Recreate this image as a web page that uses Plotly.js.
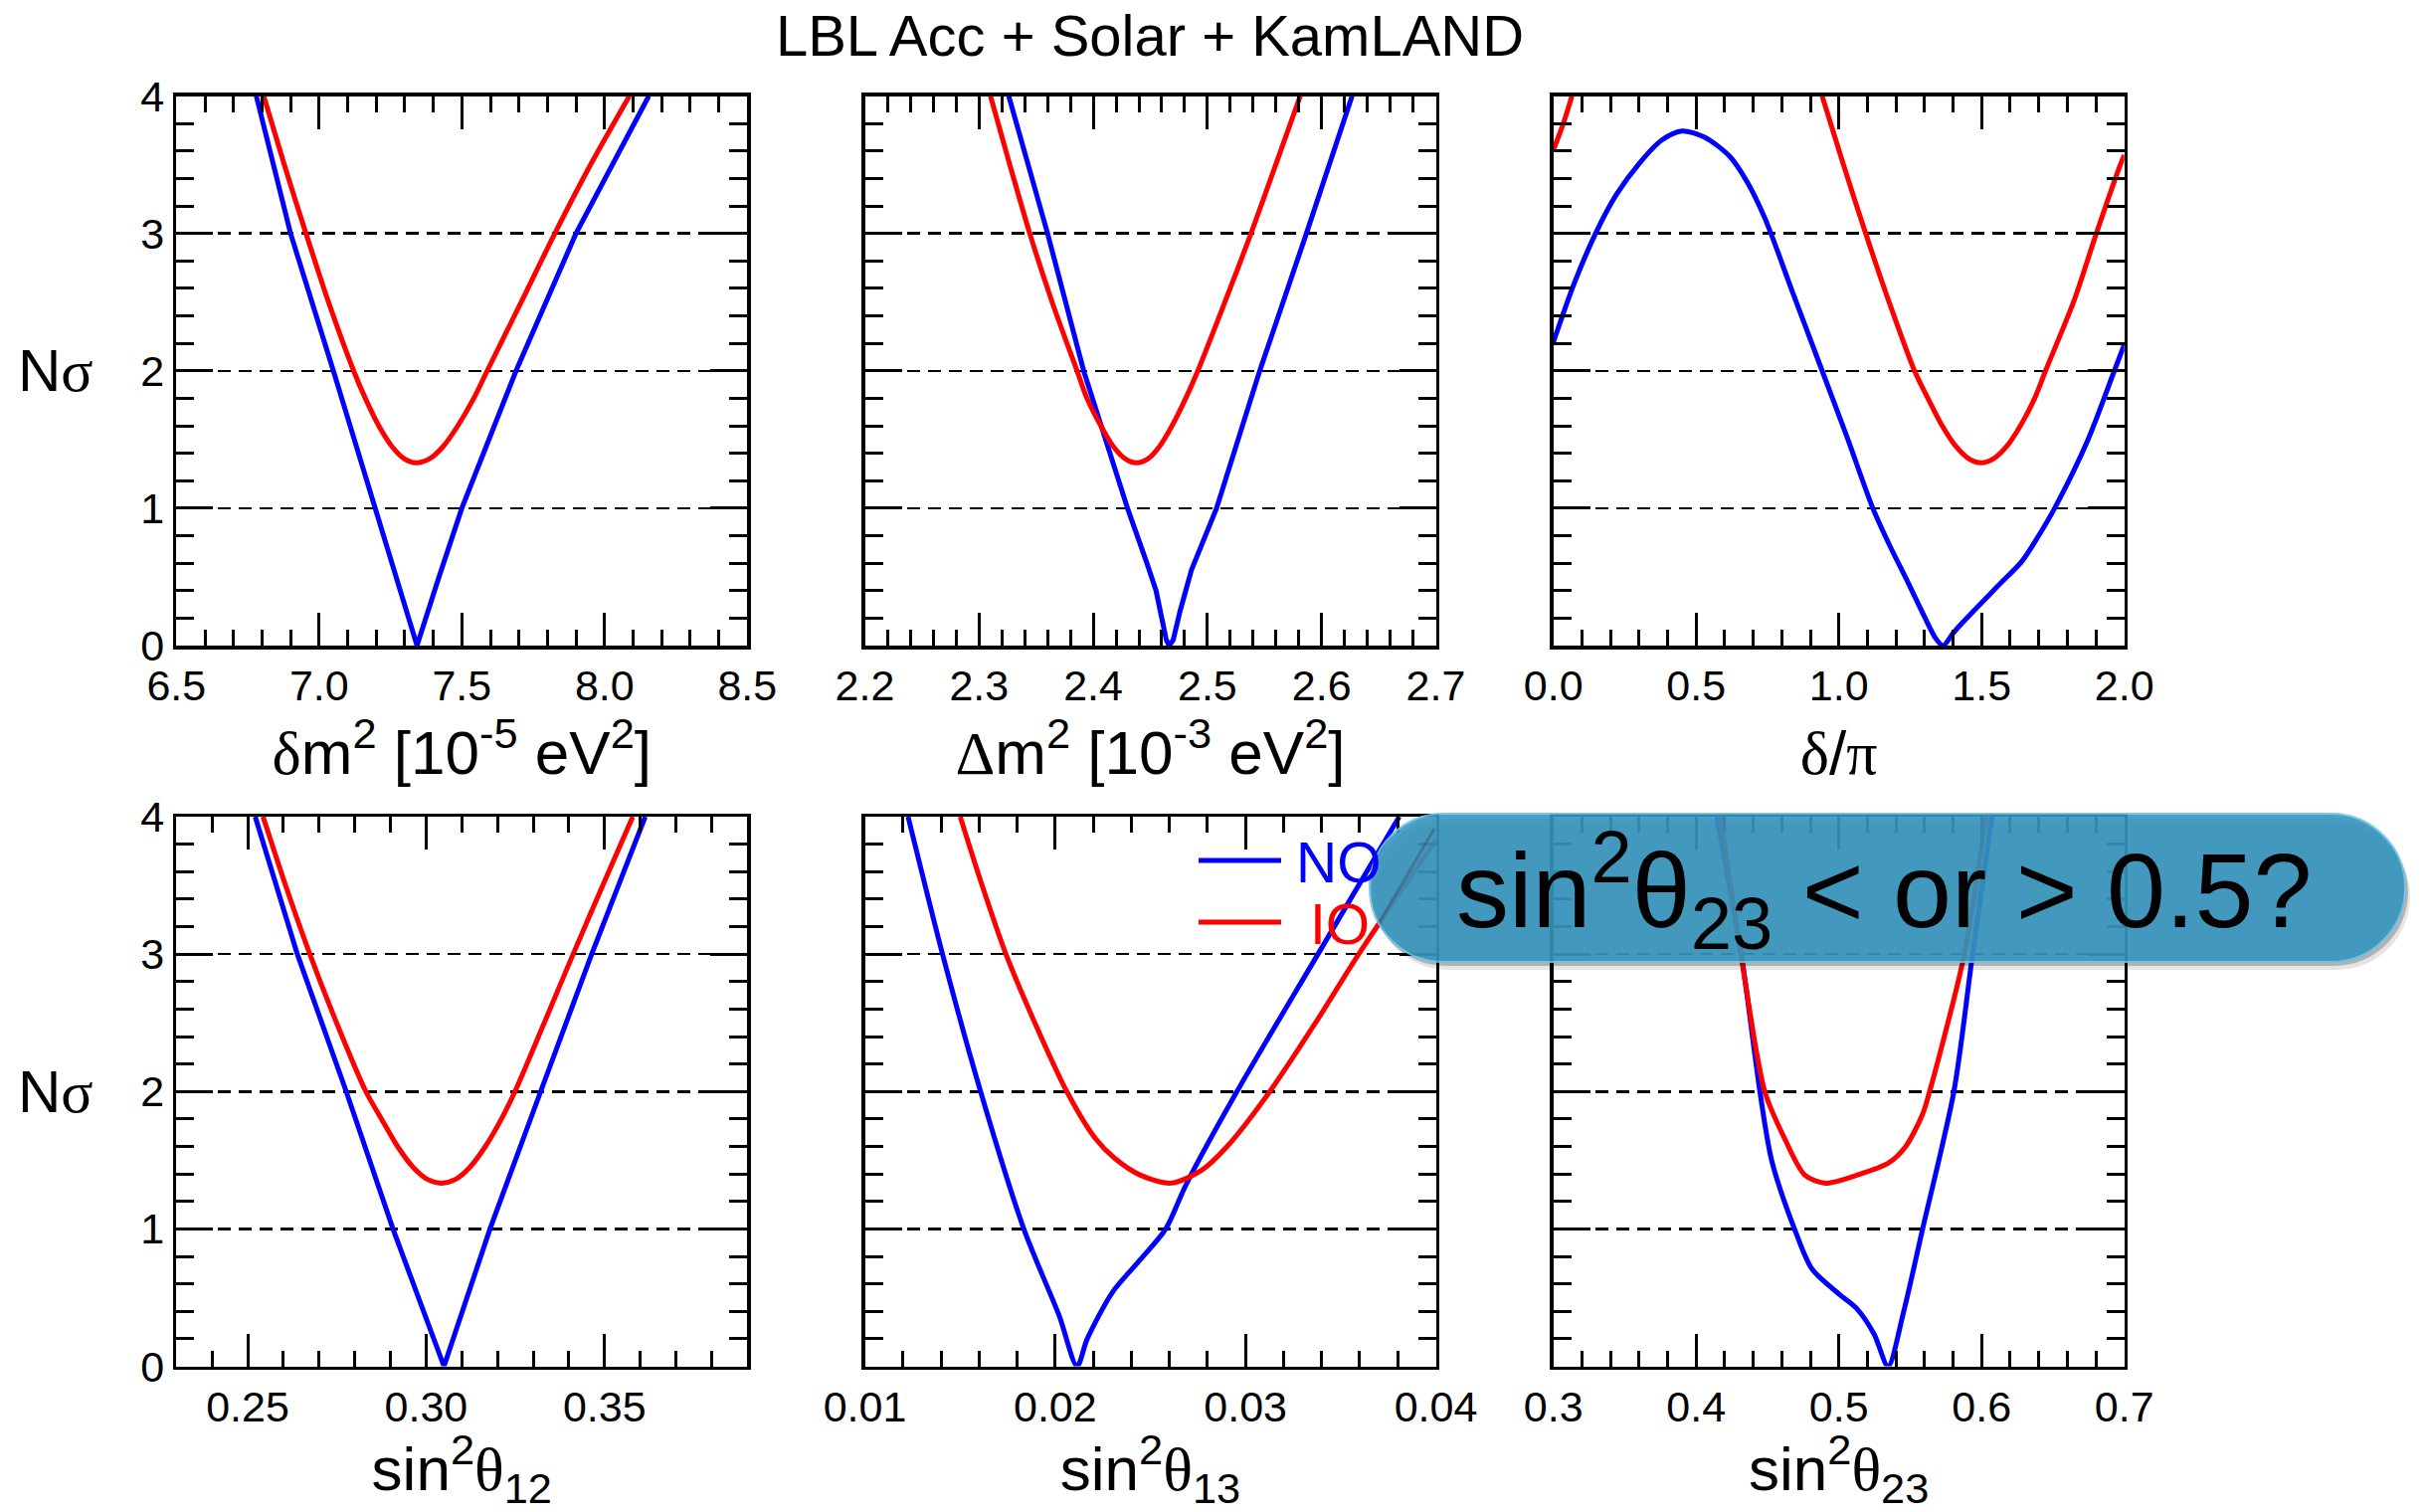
<!DOCTYPE html>
<html>
<head>
<meta charset="utf-8">
<script src="https://cdn.plot.ly/plotly-3.0.1.min.js"></script>
<style>
html,body{margin:0;padding:0;background:#ffffff;}
#chart{width:2439px;height:1520px;}
</style>
</head>
<body>
<div id="chart"></div>
<script>
// ---------------- data ----------------
// panel 1: delta m^2 [1e-5 eV^2]
const dm21_NO_x = [6.78, 6.90, 7.05, 7.195, 7.27, 7.343, 7.42, 7.50, 7.69, 7.90, 8.155];
const dm21_NO_y = [4, 3, 2, 1, 0.5, 0, 0.5, 1, 2, 3, 4];
const dm21_IO_x = [6.806, 6.878, 6.954, 7.033, 7.121, 7.162, 7.209, 7.255, 7.298, 7.340, 7.387, 7.435, 7.486, 7.542, 7.589, 7.708, 7.826, 7.951, 8.087];
const dm21_IO_y = [4, 3.5, 3, 2.5, 2, 1.8, 1.6, 1.45, 1.36, 1.33, 1.36, 1.45, 1.6, 1.8, 2, 2.5, 3, 3.5, 4];

// panel 2: Delta m^2 [1e-3 eV^2]
const dm31_NO_x = [2.326, 2.360, 2.3916, 2.410, 2.430, 2.447, 2.455, 2.460, 2.464, 2.4665, 2.470, 2.476, 2.486, 2.508, 2.5458, 2.5867, 2.6267];
const dm31_NO_y = [4, 3, 2, 1.509, 1, 0.6, 0.4, 0.2, 0.04, 0, 0.04, 0.25, 0.55, 1, 2, 3, 4];
const dm31_IO_x = [2.310, 2.3269, 2.3444, 2.364, 2.3858, 2.3945, 2.4066, 2.4175, 2.4279, 2.4378, 2.448, 2.4581, 2.469, 2.481, 2.4916, 2.5153, 2.5382, 2.5598, 2.5813];
const dm31_IO_y = [4, 3.5, 3, 2.5, 2, 1.8, 1.6, 1.45, 1.36, 1.33, 1.36, 1.45, 1.6, 1.8, 2, 2.5, 3, 3.5, 4];

// panel 3: delta / pi
const dcp_NO_x = [0, 0.07, 0.148, 0.22, 0.305, 0.38, 0.451, 0.53, 0.618, 0.68, 0.743, 0.84, 0.9415, 1.03, 1.119, 1.18, 1.244, 1.30, 1.34, 1.365, 1.40, 1.432, 1.557, 1.641, 1.70, 1.756, 1.871, 1.965, 2.0];
const dcp_NO_y = [2.208, 2.62, 3.0, 3.28, 3.52, 3.68, 3.745, 3.70, 3.56, 3.37, 3.10, 2.56, 2.0, 1.51, 1.0, 0.72, 0.452, 0.21, 0.05, 0, 0.09, 0.165, 0.434, 0.613, 0.80, 1.0, 1.49, 2.0, 2.19];
const dcp_IO_x = [0, 0.035, 0.065, null, 0.9415, 1.016, 1.094, 1.176, 1.265, 1.312, 1.362, 1.41, 1.455, 1.499, 1.542, 1.588, 1.636, 1.686, 1.724, 1.822, 1.902, 1.986, 2.0];
const dcp_IO_y = [3.606, 3.8, 4, null, 4, 3.5, 3, 2.5, 2, 1.8, 1.6, 1.45, 1.36, 1.33, 1.36, 1.45, 1.6, 1.8, 2, 2.5, 3, 3.5, 3.57];

// panel 4: sin^2 theta12
const s12_NO_x = [0.2521, 0.2639, 0.2776, 0.2907, 0.305, 0.3179, 0.3321, 0.3464, 0.3614];
const s12_NO_y = [4, 3, 2, 1, 0, 1, 2, 3, 4];
const s12_IO_x = [0.2543, 0.2606, 0.2674, 0.2749, 0.2831, 0.2875, 0.292, 0.2963, 0.3004, 0.3043, 0.3082, 0.3123, 0.3166, 0.3211, 0.3249, 0.3331, 0.3412, 0.3495, 0.3579];
const s12_IO_y = [4, 3.5, 3, 2.5, 2, 1.8, 1.6, 1.45, 1.36, 1.333, 1.36, 1.45, 1.6, 1.8, 2, 2.5, 3, 3.5, 4];

// panel 5: sin^2 theta13
const s13_NO_x = [0.01227, 0.01408, 0.01608, 0.01835, 0.02021, 0.02115, 0.02168, 0.02301, 0.02448, 0.02581, 0.02688, 0.02955, 0.03381, 0.03808];
const s13_NO_y = [4, 3, 2, 1, 0.368, 0, 0.198, 0.539, 0.777, 1.0, 1.323, 2, 3, 4];
const s13_IO_x = [0.01501, 0.01616, 0.01741, 0.01893, 0.02061, 0.02208, 0.02315, 0.02448, 0.02608, 0.02768, 0.02901, 0.03128, 0.03368, 0.03595, 0.0400];
const s13_IO_y = [4, 3.5, 3, 2.5, 2, 1.664, 1.511, 1.391, 1.333, 1.425, 1.596, 2, 2.5, 3, 3.83];

// panel 6: sin^2 theta23
const s23_NO_x = [0.4146, 0.4316, 0.4447, 0.4529, 0.4689, 0.4811, 0.5005, 0.5126, 0.5248, 0.5345, 0.545, 0.5587, 0.5806, 0.5937, 0.6073];
const s23_NO_y = [4, 3, 2, 1.5, 1, 0.709, 0.522, 0.419, 0.232, 0, 0.38, 1, 2, 3, 4];
const s23_IO_x = [0.417, 0.4325, 0.4481, 0.4617, 0.4762, 0.4908, 0.5126, 0.5345, 0.5466, 0.5587, 0.5636, 0.5879, 0.603];
const s23_IO_y = [4, 2.925, 2, 1.664, 1.391, 1.333, 1.391, 1.477, 1.596, 1.835, 2, 3, 4];

// tick values
const nsigmaTicks = [0, 1, 2, 3, 4];
const dm21Ticks = [6.5, 7.0, 7.5, 8.0, 8.5];
const dm31Ticks = [2.2, 2.3, 2.4, 2.5, 2.6, 2.7];
const dcpTicks  = [0.0, 0.5, 1.0, 1.5, 2.0];
const s12Ticks  = [0.25, 0.30, 0.35];
const s13Ticks  = [0.01, 0.02, 0.03, 0.04];
const s23Ticks  = [0.3, 0.4, 0.5, 0.6, 0.7];

const seriesNames = ['NO', 'IO'];

// ---------------- layout helpers ----------------
const W = 2439, H = 1520;
const FONT = 'Liberation Sans, Arial, Helvetica, sans-serif';
const SERIF = 'Liberation Serif';
const gk = (ch) => '<span style="font-family:' + SERIF + '">' + ch + '</span>';

const colPx = [[177.3, 751.3], [869.5, 1443.5], [1561.7, 2135.7]];
const rowPx = [[96.5, 649], [821, 1373.5]];

const panels = [
  {NOx: dm21_NO_x, NOy: dm21_NO_y, IOx: dm21_IO_x, IOy: dm21_IO_y, range: [6.5, 8.5], ticks: dm21Ticks, minor: 0.1, fmt: '.1f',
   title: gk('δ') + 'm<sup>2</sup> [10<sup>-5</sup> eV<sup>2</sup>]', NOshape: 'linear'},
  {NOx: dm31_NO_x, NOy: dm31_NO_y, IOx: dm31_IO_x, IOy: dm31_IO_y, range: [2.2, 2.7], ticks: dm31Ticks, minor: 0.02, fmt: '.1f',
   title: gk('Δ') + 'm<sup>2</sup> [10<sup>-3</sup> eV<sup>2</sup>]', NOshape: 'linear'},
  {NOx: dcp_NO_x, NOy: dcp_NO_y, IOx: dcp_IO_x, IOy: dcp_IO_y, range: [0, 2], ticks: dcpTicks, minor: 0.1, fmt: '.1f',
   title: gk('δ') + '/' + gk('π'), NOshape: 'spline'},
  {NOx: s12_NO_x, NOy: s12_NO_y, IOx: s12_IO_x, IOy: s12_IO_y, range: [0.23, 0.39], ticks: s12Ticks, minor: 0.01, fmt: '.2f',
   title: 'sin<sup>2</sup>' + gk('θ') + '<sub>12</sub>', NOshape: 'linear'},
  {NOx: s13_NO_x, NOy: s13_NO_y, IOx: s13_IO_x, IOy: s13_IO_y, range: [0.01, 0.04], ticks: s13Ticks, minor: 0.002, fmt: '.2f',
   title: 'sin<sup>2</sup>' + gk('θ') + '<sub>13</sub>', NOshape: 'spline'},
  {NOx: s23_NO_x, NOy: s23_NO_y, IOx: s23_IO_x, IOy: s23_IO_y, range: [0.3, 0.7], ticks: s23Ticks, minor: 0.02, fmt: '.1f',
   title: 'sin<sup>2</sup>' + gk('θ') + '<sub>23</sub>', NOshape: 'spline'}
];

const traces = [];
const layout = {
  width: W, height: H,
  margin: {l: 0, r: 0, t: 0, b: 0},
  paper_bgcolor: '#ffffff', plot_bgcolor: '#ffffff',
  font: {family: FONT, color: '#000000', size: 42},
  showlegend: false,
  title: {text: 'LBL Acc + Solar + KamLAND', font: {size: 58, family: FONT, color: '#000'},
          x: 1156 / W, xanchor: 'center', xref: 'paper', y: 1 - 36 / H, yanchor: 'middle', yref: 'container'},
  shapes: [], annotations: []
};

panels.forEach((p, i) => {
  const row = Math.floor(i / 3), col = i % 3;
  const n = i + 1;
  const xa = n === 1 ? 'x' : 'x' + n;
  const ya = n === 1 ? 'y' : 'y' + n;
  traces.push({x: p.NOx, y: p.NOy, xaxis: xa, yaxis: ya, name: seriesNames[0], mode: 'lines',
               line: {color: '#0000ff', width: 5, shape: p.NOshape, smoothing: 0.8}, connectgaps: false, hoverinfo: 'skip'});
  traces.push({x: p.IOx, y: p.IOy, xaxis: xa, yaxis: ya, name: seriesNames[1], mode: 'lines',
               line: {color: '#ff0000', width: 5, shape: 'spline', smoothing: 0.8}, connectgaps: false, hoverinfo: 'skip'});

  const xk = n === 1 ? 'xaxis' : 'xaxis' + n;
  const yk = n === 1 ? 'yaxis' : 'yaxis' + n;
  layout[xk] = {
    domain: [colPx[col][0] / W, colPx[col][1] / W],
    anchor: ya, range: p.range, fixedrange: true,
    tickmode: 'array', tickvals: p.ticks, tickformat: p.fmt,
    ticks: 'inside', ticklen: 33, tickwidth: 3, tickcolor: '#000',
    minor: {tickmode: 'linear', tick0: p.range[0], dtick: p.minor, ticks: 'inside', ticklen: 16, tickwidth: 3, tickcolor: '#000', showgrid: false},
    showline: true, linecolor: '#000', linewidth: 3.5, mirror: 'allticks',
    showgrid: false, zeroline: false,
    tickfont: {size: 43, family: FONT, color: '#000'},
    ticklabelstandoff: 0,
    title: {text: p.title, font: {size: 62, family: FONT, color: '#000'}, standoff: 23}
  };
  layout[yk] = {
    domain: [1 - rowPx[row][1] / H, 1 - rowPx[row][0] / H],
    anchor: xa, range: [0, 4], fixedrange: true,
    tickmode: 'array', tickvals: nsigmaTicks,
    ticks: 'inside', ticklen: 37, tickwidth: 3, tickcolor: '#000',
    minor: {tickmode: 'linear', tick0: 0, dtick: 0.2, ticks: 'inside', ticklen: 18, tickwidth: 3, tickcolor: '#000', showgrid: false},
    showline: true, linecolor: '#000', linewidth: 3.5, mirror: 'allticks',
    showgrid: true, gridcolor: '#000', gridwidth: 2.5, griddash: '13px,8px', zeroline: false,
    showticklabels: col === 0,
    tickfont: {size: 43, family: FONT, color: '#000'},
    ticklabelstandoff: 0
  };
});

// N sigma labels
[0, 1].forEach(r => {
  const yc = (rowPx[r][0] + rowPx[r][1]) / 2;
  layout.annotations.push({text: 'N' + gk('σ'), xref: 'paper', yref: 'paper', x: 56 / W, y: 1 - yc / H,
    xanchor: 'center', yanchor: 'middle', showarrow: false, font: {size: 60, family: FONT, color: '#000'}});
});

// legend (drawn in panel 5)
const P = (px, py) => (px / W).toFixed(6) + ',' + (1 - py / H).toFixed(6);
layout.shapes.push({type: 'line', xref: 'paper', yref: 'paper', x0: 1205 / W, x1: 1288 / W, y0: 1 - 865 / H, y1: 1 - 865 / H,
  line: {color: '#0000ff', width: 5}, layer: 'above'});
layout.shapes.push({type: 'line', xref: 'paper', yref: 'paper', x0: 1205 / W, x1: 1288 / W, y0: 1 - 927 / H, y1: 1 - 927 / H,
  line: {color: '#ff0000', width: 5}, layer: 'above'});
layout.annotations.push({text: seriesNames[0], xref: 'paper', yref: 'paper', x: 1301 / W, y: 1 - 867 / H, xanchor: 'left', yanchor: 'middle',
  showarrow: false, font: {size: 57, family: FONT, color: '#0000ff'}});
layout.annotations.push({text: seriesNames[1], xref: 'paper', yref: 'paper', x: 1315 / W, y: 1 - 929 / H, xanchor: 'left', yanchor: 'middle',
  showarrow: false, font: {size: 57, family: FONT, color: '#ff0000'}});

// callout bubble
function pill(x0, y0, x1, y1) {
  const r = (y1 - y0) / 2, ym = (y0 + y1) / 2, k = 0.5523 * r;
  return 'M ' + P(x0 + r, y0) + ' L ' + P(x1 - r, y0) +
    ' C ' + P(x1 - r + k, y0) + ' ' + P(x1, ym - k) + ' ' + P(x1, ym) +
    ' C ' + P(x1, ym + k) + ' ' + P(x1 - r + k, y1) + ' ' + P(x1 - r, y1) +
    ' L ' + P(x0 + r, y1) +
    ' C ' + P(x0 + r - k, y1) + ' ' + P(x0, ym + k) + ' ' + P(x0, ym) +
    ' C ' + P(x0, ym - k) + ' ' + P(x0 + r - k, y0) + ' ' + P(x0 + r, y0) + ' Z';
}
const bx0 = 1377, by0 = 818, bx1 = 2418, by1 = 967;
layout.shapes.push({type: 'path', xref: 'paper', yref: 'paper', path: pill(bx0 + 5, by0 + 10, bx1 + 5, by1 + 8),
  fillcolor: 'rgba(0,0,0,0.10)', line: {width: 0}, layer: 'above'});
layout.shapes.push({type: 'path', xref: 'paper', yref: 'paper', path: pill(bx0 + 2, by0 + 5, bx1 + 3, by1 + 4),
  fillcolor: 'rgba(0,0,0,0.22)', line: {width: 0}, layer: 'above'});
layout.shapes.push({type: 'path', xref: 'paper', yref: 'paper', path: pill(bx0, by0, bx1, by1),
  fillcolor: 'rgb(56,150,192)', opacity: 0.9, line: {color: 'rgb(110,195,232)', width: 2}, layer: 'above'});
layout.shapes.push({type: 'line', xref: 'paper', yref: 'paper', x0: 1442 / W, y0: 1 - 833 / H, x1: 1387 / W, y1: 1 - 927 / H,
  line: {color: 'rgba(60,80,100,0.45)', width: 3}, layer: 'above'});
layout.annotations.push({text: 'sin<sup>2</sup>θ<sub>23</sub> &lt; or &gt; 0.5?', xref: 'paper', yref: 'paper',
  x: 1894 / W, y: 1 - 895 / H, xanchor: 'center', yanchor: 'middle', showarrow: false,
  font: {size: 106, family: FONT, color: '#000'}});

Plotly.newPlot('chart', traces, layout, {displayModeBar: false, staticPlot: true});
</script>
</body>
</html>
